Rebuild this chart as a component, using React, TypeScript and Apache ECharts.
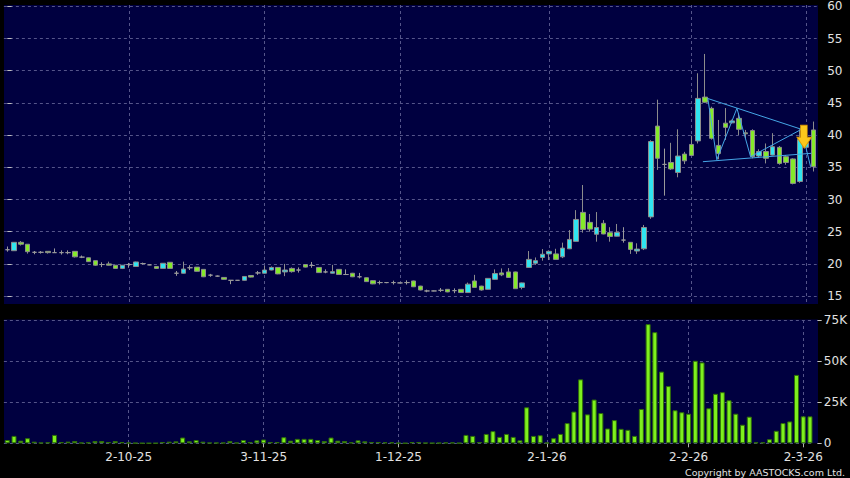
import React, { useEffect, useRef } from "react";
import * as echarts from "echarts";

// [open, close, low, high]
const candles: number[][] = [
  [22.2, 22.2, 21.9, 22.7], [22.05, 23.35, 22.0, 23.4], [23.35, 23.05, 22.85, 23.55], [23.05, 21.9, 21.6, 23.05], [21.8, 21.8, 21.5, 22.0],
  [21.8, 21.8, 21.6, 22.0], [21.95, 21.75, 21.6, 22.0], [21.75, 21.75, 21.7, 22.4], [21.75, 21.75, 21.45, 22.1], [21.75, 21.75, 21.5, 22.1],
  [21.95, 21.1, 21.0, 21.95], [21.05, 21.05, 20.9, 21.3], [20.95, 20.35, 20.3, 21.0], [20.5, 19.8, 19.7, 20.5], [19.9, 19.9, 19.5, 20.25],
  [20.0, 19.8, 19.75, 20.35], [19.8, 19.3, 19.25, 19.8], [19.3, 19.8, 19.2, 19.8], [19.9, 19.9, 19.4, 20.15], [19.6, 20.3, 19.55, 20.35],
  [20.05, 20.05, 19.9, 20.2], [19.85, 19.85, 19.8, 19.9], [19.6, 19.3, 19.25, 19.65], [19.3, 20.1, 19.3, 20.1], [20.25, 19.3, 19.3, 20.25],
  [18.55, 18.55, 18.15, 18.9], [18.55, 19.2, 18.5, 20.35], [19.4, 19.4, 19.05, 19.8], [19.5, 18.85, 18.8, 19.5], [19.15, 18.0, 17.95, 19.15],
  [18.25, 18.25, 18.0, 18.45], [18.1, 18.1, 18.0, 18.2], [17.9, 17.6, 17.55, 17.95], [17.45, 17.45, 16.85, 17.5], [17.45, 17.45, 17.4, 17.5],
  [17.45, 18.05, 17.4, 18.1], [18.2, 17.95, 17.9, 18.25], [18.6, 18.6, 18.3, 18.9], [18.55, 19.05, 18.5, 19.7], [19.05, 19.45, 19.0, 19.6],
  [19.45, 18.45, 18.4, 19.5], [18.75, 19.05, 18.1, 20.0], [19.3, 18.8, 18.65, 19.45], [19.05, 19.05, 18.65, 19.45], [19.9, 19.5, 19.45, 19.95],
  [19.75, 19.75, 19.4, 20.3], [19.45, 18.65, 18.6, 19.5], [18.75, 18.75, 18.55, 19.15], [18.55, 18.8, 18.5, 19.85], [19.15, 18.35, 18.3, 19.2],
  [18.35, 18.35, 18.3, 19.15], [18.55, 18.0, 17.95, 18.6], [18.0, 18.0, 17.75, 18.6], [17.85, 17.25, 17.2, 17.9], [17.4, 16.9, 16.85, 17.45],
  [17.1, 17.1, 16.8, 17.4], [17.1, 17.1, 17.0, 17.15], [17.1, 17.1, 16.8, 17.4], [17.05, 17.05, 17.0, 17.1], [17.1, 17.1, 16.8, 17.45],
  [17.35, 16.45, 16.4, 17.4], [16.55, 15.95, 15.9, 16.6], [15.8, 15.8, 15.6, 16.0], [15.8, 15.8, 15.75, 15.85], [15.9, 15.9, 15.65, 16.25],
  [16.05, 15.65, 15.6, 16.1], [15.85, 15.85, 15.45, 16.2], [16.05, 15.55, 15.5, 16.1], [15.55, 16.85, 15.5, 17.1], [17.35, 16.35, 16.3, 18.3],
  [16.55, 15.95, 15.85, 16.6], [16.05, 17.75, 16.0, 17.8], [17.6, 18.5, 17.55, 19.15], [18.6, 18.3, 18.1, 19.3], [18.75, 17.9, 17.85, 19.35],
  [18.75, 16.15, 16.1, 18.8], [16.35, 17.05, 16.05, 17.1], [19.45, 20.7, 19.4, 22.0], [20.1, 20.5, 19.85, 21.0], [21.0, 21.5, 20.5, 22.3],
  [21.55, 21.95, 20.6, 22.1], [21.55, 20.7, 20.65, 22.35], [21.1, 22.45, 20.9, 23.3], [22.35, 23.8, 22.3, 25.25], [23.5, 26.9, 23.45, 28.35],
  [28.0, 25.35, 24.85, 32.25], [26.45, 25.4, 25.0, 27.75], [24.6, 25.65, 23.45, 28.05], [26.3, 24.65, 24.6, 26.8], [24.85, 24.25, 23.45, 25.7],
  [24.3, 24.9, 24.25, 26.2], [23.7, 23.7, 23.3, 25.7], [23.35, 22.25, 21.55, 23.4], [22.0, 22.3, 21.55, 23.2], [22.35, 25.65, 22.15, 26.05],
  [27.3, 39.0, 27.0, 39.2], [41.4, 36.4, 34.6, 45.5], [35.45, 35.45, 30.6, 37.9], [35.75, 34.75, 34.6, 38.8], [34.2, 36.75, 33.45, 40.9],
  [37.05, 36.0, 35.5, 37.4], [38.55, 36.85, 36.8, 39.9], [39.1, 45.7, 38.7, 49.6], [45.9, 45.1, 45.0, 52.6], [44.15, 39.5, 39.3, 44.4],
  [38.4, 37.15, 36.25, 42.35], [41.85, 41.2, 39.25, 44.2], [41.9, 42.2, 41.8, 42.4], [42.6, 40.9, 40.0, 43.4], [40.35, 40.2, 39.5, 40.8],
  [40.7, 36.65, 36.4, 40.9], [36.75, 37.45, 36.5, 37.8], [37.45, 36.4, 35.6, 38.7], [36.9, 38.2, 36.85, 40.3], [38.1, 35.6, 35.4, 38.3],
  [36.65, 35.75, 35.4, 36.9], [36.3, 32.5, 32.35, 36.4], [32.8, 39.3, 32.6, 40.9], [38.1, 38.8, 37.9, 39.0], [40.8, 35.1, 34.35, 42.1],
];

// volume in thousands
const volumeK: number[] = [
  2.0, 4.5, 1.6, 3.1, 1.0, 0.4, 0.6, 5.1, 0.8, 1.0,
  1.4, 0.4, 0.6, 1.4, 1.4, 0.8, 1.4, 0.8, 0.4, 0.2,
  0.1, 0.1, 0.1, 0.8, 1.0, 1.2, 3.5, 1.2, 2.0, 1.0,
  0.4, 0.4, 0.4, 1.4, 0.4, 2.0, 0.8, 1.8, 2.3, 0.8,
  0.8, 3.7, 1.6, 2.7, 2.7, 2.7, 2.0, 1.4, 3.5, 1.6,
  1.4, 0.6, 1.8, 1.2, 0.8, 0.8, 0.6, 0.6, 0.2, 0.1,
  0.8, 0.8, 0.3, 0.2, 0.3, 0.5, 0.5, 0.2, 5.1, 4.5,
  0.8, 5.7, 7.4, 3.9, 5.7, 3.9, 1.8, 21.9, 4.5, 4.9,
  0.4, 3.1, 5.7, 12.3, 19.3, 38.9, 17.6, 26.6, 18.4, 9.0,
  14.1, 8.8, 8.2, 4.5, 20.9, 72.5, 67.6, 43.6, 34.8, 20.1,
  18.9, 18.0, 50.2, 49.2, 21.3, 30.1, 31.1, 26.2, 18.0, 11.3,
  16.2, 0.6, 0.6, 2.5, 7.6, 12.3, 13.3, 41.6, 16.4, 16.4,
];

const days = candles.map((_, i) => "d" + i);
const tickIdx = [18, 38, 58, 80, 101, 118];
const tickText = ["2-10-25", "3-11-25", "1-12-25", "2-1-26", "2-2-26", "2-3-26"];
const priceTicks = { min: 15, max: 60, step: 5 };
const volTicks = { min: 0, max: 75, step: 25 };

// drawn annotations: [index, price]
const trendUpper = [[103.43, 45.68], [117.25, 40.9]];
const trendLower = [[102.7, 35.87], [118.7, 37.17]];
const zigzag = [[103.43, 45.68], [104.76, 36.18], [107.72, 44.16], [109.74, 36.65], [117.25, 40.9], [118.6, 35.09]];
const arrowPoint = [117.66, 39.75];

const NAVY = "#000040";
const GRIDC = "#55558a";
const TXT = "#e2e2e2";
const FONT = "DejaVu Sans";

export default function App() {
  const ref = useRef<HTMLDivElement>(null);
  useEffect(() => {
    if (!ref.current) return;
    const chart = echarts.init(ref.current, undefined, { renderer: "svg" });
    const L = 3.9, R = 33.3;
    const isTick = (i: number) => tickIdx.includes(i);
    const splitDash = { color: GRIDC, width: 1, type: [3, 3] as any };
    chart.setOption({
      animation: false,
      backgroundColor: "#000",
      graphic: [
        { type: "rect", z: -10, shape: { x: 4, y: 5, width: 814, height: 299 }, style: { fill: NAVY } },
        { type: "rect", z: -10, shape: { x: 4, y: 319.5, width: 814, height: 123.8 }, style: { fill: NAVY } },
        {
          type: "text", x: 845, y: 472, z: 10,
          style: { text: "Copyright by AASTOCKS.com Ltd.", fill: TXT, fontSize: 9.5, fontFamily: FONT,
            textAlign: "right", textVerticalAlign: "middle", align: "right", verticalAlign: "middle" },
        },
      ],
      grid: [
        { left: L, right: R, top: 6.3, height: 289.8 },
        { left: L, right: R, top: 5, height: 299 },
        { left: L, right: R, top: 320, height: 123.3 },
      ],
      xAxis: [
        { type: "category", gridIndex: 0, data: days, show: false },
        { type: "value", gridIndex: 0, min: -0.5, max: candles.length - 0.5, show: false },
        {
          type: "category", gridIndex: 1, data: days,
          axisLine: { show: false }, axisTick: { show: false }, axisLabel: { show: false },
          splitLine: { show: true, interval: isTick, alignWithLabel: true, lineStyle: splitDash },
        },
        {
          type: "category", gridIndex: 2, data: days, offset: 3,
          axisLine: { show: false },
          axisTick: { show: true, alignWithLabel: true, interval: isTick, length: 4, lineStyle: { color: "#b0b0b0" } },
          axisLabel: {
            show: true, interval: isTick, margin: 5, color: TXT, fontSize: 12, fontFamily: FONT,
            formatter: (_v: string, i: number) => tickText[tickIdx.indexOf(i)] ?? "",
          },
          splitLine: { show: true, interval: isTick, alignWithLabel: true, lineStyle: splitDash },
        },
      ],
      yAxis: [
        {
          type: "value", gridIndex: 0, position: "right", offset: 4,
          min: priceTicks.min, max: priceTicks.max, interval: priceTicks.step,
          axisLine: { show: false },
          axisTick: { show: true, length: 4.3, lineStyle: { color: "#c0c0c0" } },
          axisLabel: { margin: 6.5, color: TXT, fontSize: 12, fontFamily: FONT },
          splitLine: { show: true, lineStyle: splitDash },
        },
        { type: "value", gridIndex: 1, min: 0, max: 1, show: false },
        {
          type: "value", gridIndex: 2, position: "right", offset: 4,
          min: volTicks.min, max: volTicks.max, interval: volTicks.step,
          axisLine: { show: false },
          axisTick: { show: true, length: 4.3, lineStyle: { color: "#c0c0c0" } },
          axisLabel: {
            margin: 6.5, color: TXT, fontSize: 12, fontFamily: FONT,
            formatter: (v: number) => (v === 0 ? "0" : v + "K"),
          },
          splitLine: { show: true, lineStyle: splitDash },
        },
      ],
      series: [
        {
          type: "candlestick", xAxisIndex: 0, yAxisIndex: 0, data: candles, barWidth: 5,
          itemStyle: {
            color: "#30e4f0", color0: "#84ea2a",
            borderColor: "#8c8c8c", borderColor0: "#8c8c8c", borderColorDoji: "#9a9a9a", borderWidth: 1,
          },
        },
        {
          type: "bar", xAxisIndex: 3, yAxisIndex: 2, data: volumeK, barWidth: 5,
          itemStyle: { color: "#7ef01e", borderColor: "#2f6e08", borderWidth: 1 },
        },
        {
          type: "line", xAxisIndex: 1, yAxisIndex: 0, data: trendUpper, symbol: "none", z: 5,
          lineStyle: { color: "#45a6e6", width: 1 },
        },
        {
          type: "line", xAxisIndex: 1, yAxisIndex: 0, data: trendLower, symbol: "none", z: 5,
          lineStyle: { color: "#45a6e6", width: 1 },
        },
        {
          type: "line", xAxisIndex: 1, yAxisIndex: 0, data: zigzag, symbol: "none", z: 5,
          lineStyle: { color: "#45a6e6", width: 1 },
        },
        {
          type: "scatter", xAxisIndex: 1, yAxisIndex: 0, data: [arrowPoint], z: 6,
          symbol: "path://M3.6,0 L10.3,0 L10.3,12 L14.7,12 L7.35,23 L0,12 L3.6,12 Z",
          symbolSize: [14.7, 23], symbolKeepAspect: false,
          itemStyle: { color: "#fbc81c", borderColor: "#e09a00", borderWidth: 0.8, opacity: 1 },
        },
      ],
    });
    return () => chart.dispose();
  }, []);
  return (
    <div
      ref={ref}
      style={{ position: "absolute", left: 0, top: 0, width: 850, height: 478, background: "#000" }}
    />
  );
}
